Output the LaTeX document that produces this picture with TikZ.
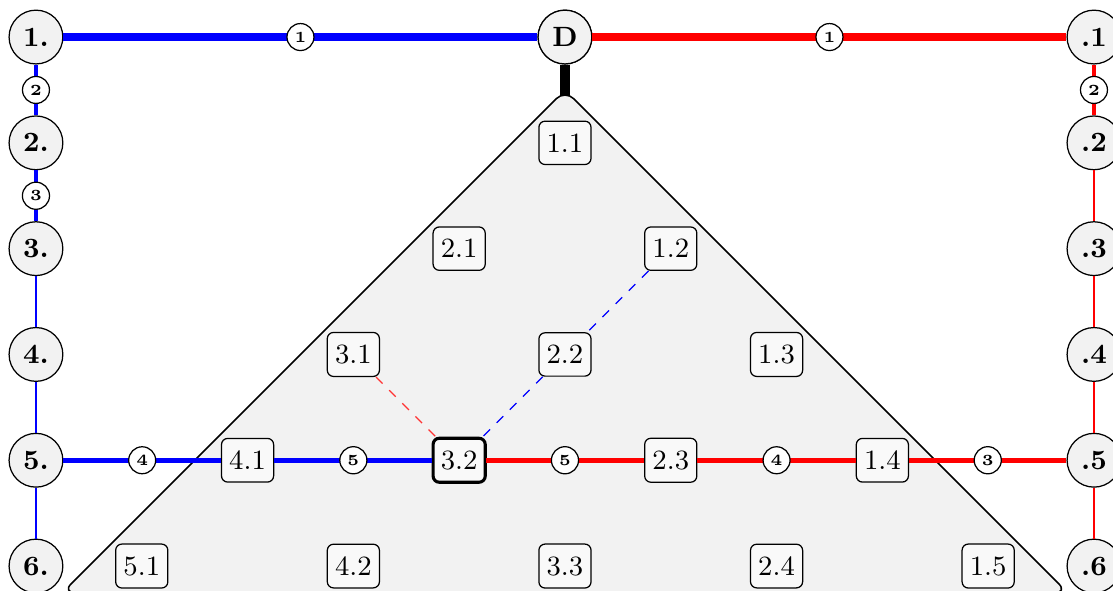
\documentclass[tikz,border=0pt]{standalone}
\usepackage{amsmath}
\usepackage{tikz}
\usetikzlibrary{calc}

\begin{document}
\begin{tikzpicture}[x=1.2cm, y=1.2cm,
    stop/.style={circle, draw, fill=gray!10, minimum size=0.61cm, inner sep=0pt, font=\small\bfseries},
    cell/.style={draw, rounded corners=2pt, fill=gray!5, inner xsep=2.5pt, inner ysep=4pt, font=\small},
    num/.style={circle, draw=black, text=black, fill=white, inner sep=1.3pt, line width=0.4pt, font=\tiny\bfseries},
    wA/.style={line width=2.6pt}, wB/.style={line width=1.3pt}, wC/.style={line width=1.1pt},
    wD/.style={line width=1.6pt}, wE/.style={line width=0.4pt}]
    \path[use as bounding box, clip] (-5.34,0.35) rectangle (5.18,-5.227);

    \coordinate (tip) at (0,-0.7);
    \node[stop] (D) at (0,0) {D};
    \draw[line width=3.5pt] (D) -- (tip);
    \filldraw[fill=gray!10, line width=0.5pt, rounded corners=4pt] (0,-0.5) -- (-4.75,-5.25) -- (4.75,-5.25) -- cycle;
    \node[stop] at (D) {D};

    % stations on both sides
    \foreach \k in {1,...,6} {
        \node[stop] (L\k) at (-5,1-\k) {\k.};
        \node[stop] (R\k) at (5,1-\k) {.\k};
    }
    % cells of the triangle
    \foreach \i/\j in {1/1,2/1,1/2,3/1,2/2,1/3,4/1,3/2,2/3,1/4,5/1,4/2,3/3,2/4,1/5} {
        \node[cell] (c\i\j) at ({\j-\i},{1-\i-\j}) {\i.\j};
    }
    \node[cell, line width=1pt] at (c32) {3.2};

    \draw[blue, wA] (L1) -- node[num] {1} (D);
    \draw[red, wA] (D) -- node[num] {1} (R1);
    \draw[blue, wB] (L1) -- node[num] {2} (L2);
    \draw[blue, wC] (L2) -- node[num] {3} (L3);
    \draw[red, wB] (R1) -- node[num] {2} (R2);
    \foreach \a/\b in {3/4,4/5,5/6} \draw[blue, wE] (L\a) -- (L\b);
    \foreach \a/\b in {2/3,3/4,4/5,5/6} \draw[red, wE] (R\a) -- (R\b);

    \draw[blue, wD] (L5) -- node[num] {4} (c41) -- node[num] {5} (c32);
    \draw[red, wD] (c32) -- node[num] {5} (c23) -- node[num] {4} (c14) -- node[num] {3} (R5);

    \draw[red!80, wE, dashed] (c31) -- (c32);
    \draw[blue, wE, dashed] (c22) -- (c32);
    \draw[blue, wE, dashed] (c12) -- (c22);
\end{tikzpicture}
\end{document}
